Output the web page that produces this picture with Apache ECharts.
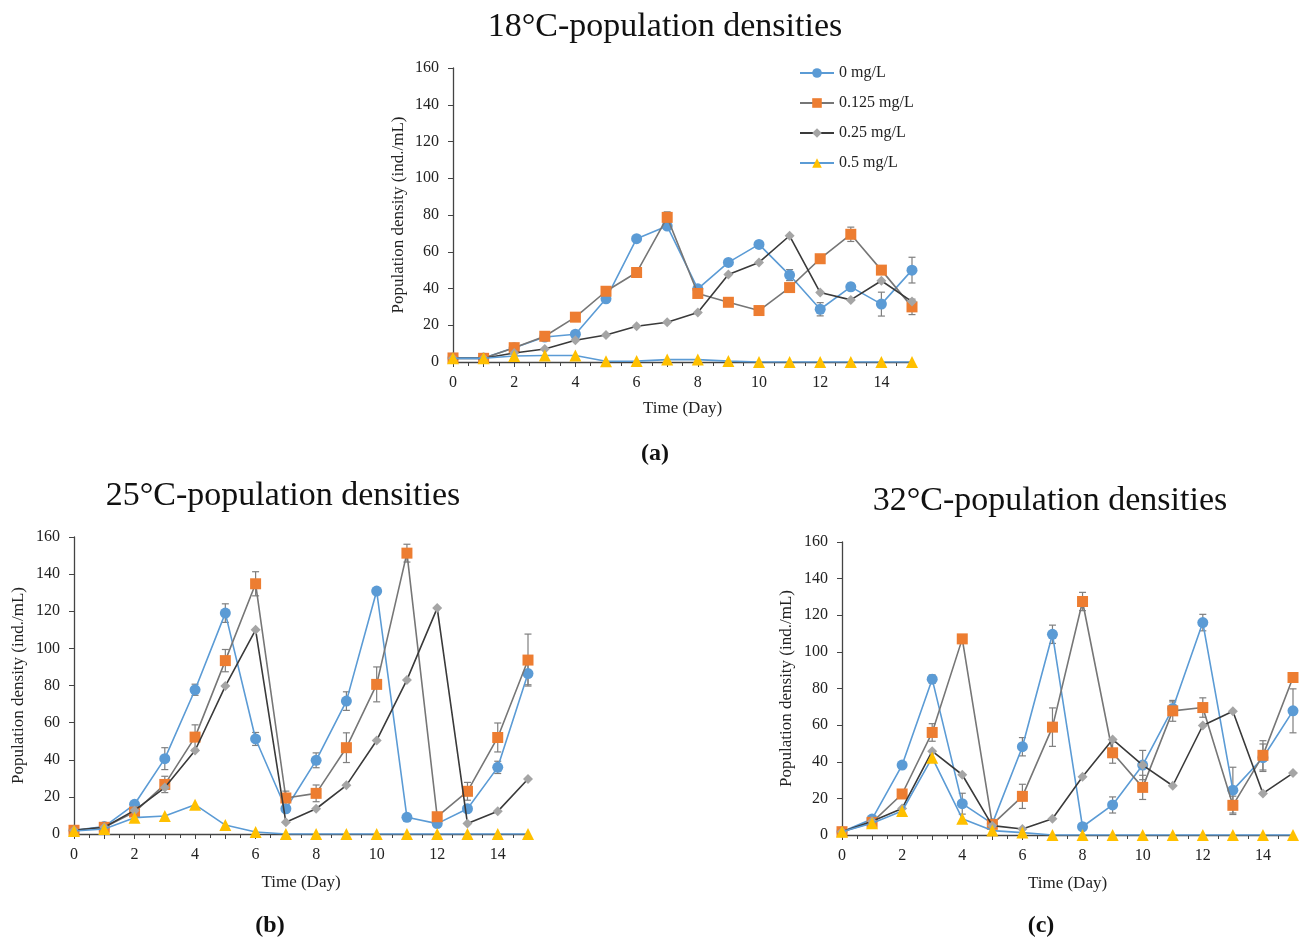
<!DOCTYPE html>
<html>
<head>
<meta charset="utf-8">
<script src="https://cdn.jsdelivr.net/npm/echarts@6/dist/echarts.min.js"></script>
<style>
html,body{margin:0;padding:0;background:#fff;}
#chart{width:1306px;height:938px;}
</style>
</head>
<body>
<div id="chart"></div>
<script>
// ---------- DATA ----------
const days = [0,1,2,3,4,5,6,7,8,9,10,11,12,13,14,15];
const seriesNames = ['0 mg/L','0.125 mg/L','0.25 mg/L','0.5 mg/L'];
const yTicks = [0,20,40,60,80,100,120,140,160];
const xTickLabels = [0,2,4,6,8,10,12,14];

// Panel (a) 18°C
const a_0    = [2.2,2.2,7.8,13.6,15.1,34.4,67.1,74.0,39.8,54.2,64.0,47.3,28.7,40.9,31.5,50.0];
const a_0125 = [2.2,2.0,7.8,14.0,24.4,38.5,48.7,78.7,37.3,32.5,28.0,40.5,56.2,69.5,50.0,30.0];
const a_025  = [2.0,2.0,4.9,7.1,11.8,14.7,19.5,21.6,26.9,47.6,54.2,68.7,37.8,33.8,44.2,32.9];
const a_05   = [2.0,2.0,3.3,3.5,3.5,0.4,0.5,1.3,1.3,0.5,0,0,0,0,0,0];
const a_0_err    = [0,0,0.5,0.5,0.8,1.0,1.0,1.5,1.0,1.0,1.0,3.0,3.6,2.0,6.5,7.0];
const a_0125_err = [0,0,0.5,0.5,0.8,1.0,1.0,3.0,1.0,1.0,1.0,1.0,1.0,3.9,1.0,4.2];
const a_025_err  = [0,0,0,0,0,0,0,0,0,0,0,0,0,0,0,0];
const a_05_err   = [0,0,0,0,0,0,0,0,0,0,0,0,0,0,0,0];

// Panel (b) 25°C
const b_0    = [2.0,4.0,16.0,40.6,77.7,119.0,51.2,13.6,39.7,71.6,130.9,9.0,5.6,13.6,35.9,86.4];
const b_0125 = [2.0,3.6,11.8,26.7,52.2,93.4,134.8,19.4,21.9,46.5,80.6,151.3,9.3,23.0,52.0,93.7];
const b_025  = [2.0,3.6,12.7,25.0,45.0,79.7,110.0,6.3,13.6,26.2,50.4,83.0,121.7,5.6,12.2,29.6];
const b_05   = [1.6,2.7,8.8,9.7,15.8,4.8,1.1,0,0,0,0,0,0,0,0,0];
const b_0_err    = [0,0.5,1.5,5.9,3.0,5.0,3.5,1.5,4.0,5.0,1.0,1.0,0.5,1.5,3.3,6.0];
const b_0125_err = [0,0.5,1.0,4.4,6.6,6.0,6.5,3.7,4.5,8.0,9.4,4.8,1.0,4.8,7.8,14.0];
const b_025_err  = [0,0,0,0,0,0,0,0,0,0,0,0,0,0,0,0];
const b_05_err   = [0,0,0,0,0,0,0,0,0,0,0,0,0,0,0,0];

// Panel (c) 32°C
const c_0    = [1.8,8.7,38.2,85.1,17.1,6.2,48.2,109.6,4.5,16.4,38.2,69.1,116.0,24.5,42.2,67.8];
const c_0125 = [1.8,6.9,22.4,56.0,107.1,5.8,21.1,58.9,127.5,44.9,26.0,67.8,69.6,16.2,43.5,86.0];
const c_025  = [1.8,7.5,14.5,45.8,32.9,5.1,3.3,8.9,31.8,52.2,38.2,26.9,59.8,67.6,22.7,33.8];
const c_05   = [1.8,6.4,13.1,42.2,8.9,2.4,1.3,0,0,0,0,0,0,0,0,0];
const c_0_err    = [0,0.5,1.0,2.3,5.7,1.0,5.0,5.0,1.0,4.4,8.0,3.6,4.5,12.5,7.5,12.0];
const c_0125_err = [0,0.5,1.0,4.8,1.6,1.0,6.6,10.5,5.0,5.7,6.6,5.7,5.3,5.0,8.0,1.7];
const c_025_err  = [0,0,0,0,0,0,0,0,0,0,0,0,0,0,0,0];
const c_05_err   = [0,0,0,0,0,0,0,0,0,0,0,0,0,0,0,0];

// ---------- STYLE ----------
const FONT = 'Liberation Serif';
const styles = [
  {line:'#5B9BD5', fill:'#5B9BD5', symbol:'circle', size:11},
  {line:'#767676', fill:'#ED7D31', symbol:'rect', size:11},
  {line:'#3A3A3A', fill:'#A5A5A5', symbol:'diamond', size:10},
  {line:'#5B9BD5', fill:'#FFC000', symbol:'triangle', size:12}
];

const panels = [
  {vals:[a_0,a_0125,a_025,a_05], errs:[a_0_err,a_0125_err,a_025_err,a_05_err],
   grid:{left:453, top:68, width:459, height:294}, xGap:38, yGap:46},
  {vals:[b_0,b_0125,b_025,b_05], errs:[b_0_err,b_0125_err,b_025_err,b_05_err],
   grid:{left:74, top:537, width:454, height:297}, xGap:40, yGap:47},
  {vals:[c_0,c_0125,c_025,c_05], errs:[c_0_err,c_0125_err,c_025_err,c_05_err],
   grid:{left:842, top:542, width:451, height:293}, xGap:40, yGap:47}
];

const grids=[], xAxes=[], yAxes=[], series=[];
panels.forEach((p,pi)=>{
  grids.push(p.grid);
  xAxes.push({
    type:'value', gridIndex:pi, min:days[0], max:days[days.length-1], interval:1,
    name:'Time (Day)', nameLocation:'middle', nameGap:p.xGap,
    nameTextStyle:{fontFamily:FONT, fontSize:17, color:'#222'},
    axisLine:{lineStyle:{color:'#444', width:1.3}},
    axisTick:{show:true, length:5, lineStyle:{color:'#444'}},
    minorTick:{show:true, splitNumber:2, length:4, lineStyle:{color:'#444'}},
    splitLine:{show:false},
    axisLabel:{fontFamily:FONT, fontSize:16, color:'#222', margin:13, showMaxLabel:false,
      formatter:v=> xTickLabels.indexOf(v)>=0 ? String(v) : ''}
  });
  yAxes.push({
    type:'value', gridIndex:pi, min:yTicks[0], max:yTicks[yTicks.length-1], interval:20,
    name:'Population density (ind./mL)', nameLocation:'middle', nameGap:p.yGap,
    nameTextStyle:{fontFamily:FONT, fontSize:17, color:'#222'},
    axisLine:{show:true, lineStyle:{color:'#444', width:1.3}},
    axisTick:{show:true, length:5, lineStyle:{color:'#444'}},
    splitLine:{show:false},
    axisLabel:{fontFamily:FONT, fontSize:16, color:'#222', margin:14}
  });
  p.vals.forEach((vals,si)=>{
    const st = styles[si];
    const errs = p.errs[si];
    series.push({
      type:'custom', xAxisIndex:pi, yAxisIndex:pi, z:1, silent:true,
      data: days.map((d,i)=>[d, vals[i], errs[i]]),
      renderItem:(params, api)=>{
        const e = api.value(2);
        if(!e) return;
        const x = api.value(0), y = api.value(1);
        const top = api.coord([x, y+e]);
        const bot = api.coord([x, y-e]);
        const w = 3.5;
        return {type:'group', children:[
          {type:'line', shape:{x1:top[0],y1:top[1],x2:bot[0],y2:bot[1]}, style:{stroke:'#7F7F7F', lineWidth:1.2}},
          {type:'line', shape:{x1:top[0]-w,y1:top[1],x2:top[0]+w,y2:top[1]}, style:{stroke:'#7F7F7F', lineWidth:1.2}},
          {type:'line', shape:{x1:bot[0]-w,y1:bot[1],x2:bot[0]+w,y2:bot[1]}, style:{stroke:'#7F7F7F', lineWidth:1.2}}
        ]};
      }
    });
    series.push({
      name: seriesNames[si], type:'line', xAxisIndex:pi, yAxisIndex:pi, z:2+si,
      data: days.map((d,i)=>[d, vals[i]]),
      symbol: st.symbol, symbolSize: st.size, showSymbol:true,
      lineStyle:{color:st.line, width:1.6},
      itemStyle:{color:st.fill, borderWidth:0},
      emphasis:{disabled:true},
      animation:false
    });
  });
});

const titleStyle = {fontFamily:FONT, fontSize:34, fontWeight:'normal', color:'#111'};
const capRich = {
  p:{fontFamily:FONT, fontSize:24, color:'#111'},
  b:{fontFamily:FONT, fontSize:24, fontWeight:'bold', color:'#111'}
};
const option = {
  backgroundColor:'#fff',
  animation:false,
  title:[
    {text:'18°C-population densities', left:660, top:5, textAlign:'center', textStyle:titleStyle},
    {text:'25°C-population densities', left:278, top:474, textAlign:'center', textStyle:titleStyle},
    {text:'32°C-population densities', left:1045, top:479, textAlign:'center', textStyle:titleStyle},
    {text:'{p|(}{b|a}{p|)}', left:650, top:437, textAlign:'center', textStyle:{rich:capRich}},
    {text:'{p|(}{b|b}{p|)}', left:265, top:909, textAlign:'center', textStyle:{rich:capRich}},
    {text:'{p|(}{b|c}{p|)}', left:1036, top:909, textAlign:'center', textStyle:{rich:capRich}}
  ],
  legend:{
    data:seriesNames, orient:'vertical', left:794, top:60, itemGap:14,
    itemWidth:34, itemHeight:12,
    textStyle:{fontFamily:FONT, fontSize:16, color:'#222'},
    selectedMode:false
  },
  grid:grids, xAxis:xAxes, yAxis:yAxes, series:series
};
const chart = echarts.init(document.getElementById('chart'), null, {renderer:'canvas'});
chart.setOption(option);
</script>
</body>
</html>
